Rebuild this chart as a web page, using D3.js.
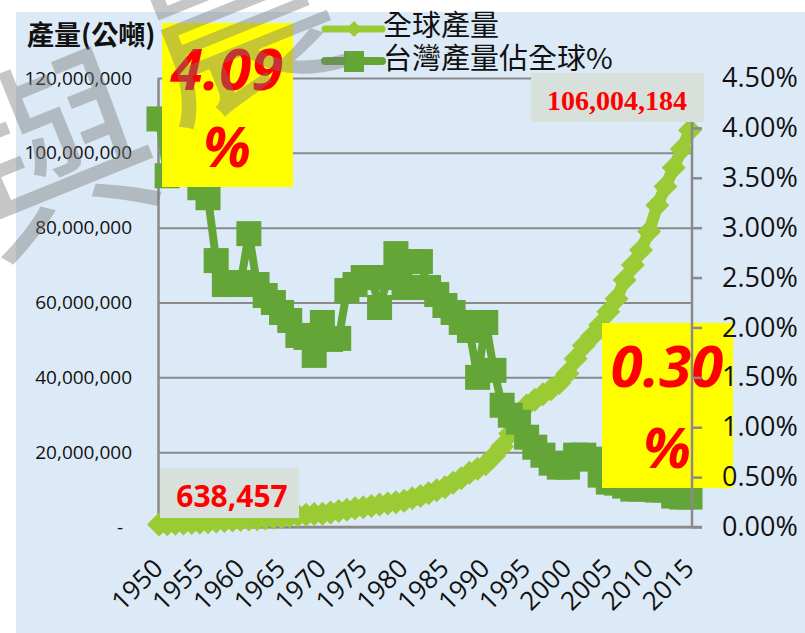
<!DOCTYPE html>
<html>
<head>
<meta charset="utf-8">
<script src="https://cdn.jsdelivr.net/npm/d3@7/dist/d3.min.js"></script>
<style>
  body { margin: 0; background: #fff; }
  svg { display: block; }
</style>
</head>
<body>
<div id="chart"></div>
<script>
// donnees
const years = [1950, 1951, 1952, 1953, 1954, 1955, 1956, 1957, 1958, 1959,
  1960, 1961, 1962, 1963, 1964, 1965, 1966, 1967, 1968, 1969,
  1970, 1971, 1972, 1973, 1974, 1975, 1976, 1977, 1978, 1979,
  1980, 1981, 1982, 1983, 1984, 1985, 1986, 1987, 1988, 1989,
  1990, 1991, 1992, 1993, 1994, 1995, 1996, 1997, 1998, 1999,
  2000, 2001, 2002, 2003, 2004, 2005, 2006, 2007, 2008, 2009,
  2010, 2011, 2012, 2013, 2014, 2015];

// 全球產量 (公噸)
const worldProd = [638457, 750000, 850000, 950000, 1050000, 1150000, 1300000, 1450000, 1600000, 1750000,
  1900000, 2000000, 2100000, 2250000, 2450000, 2600000, 2850000, 3100000, 3300000, 3450000,
  3550000, 3900000, 4300000, 4600000, 5000000, 5300000, 5600000, 6000000, 6300000, 6600000,
  7000000, 7700000, 8300000, 9000000, 9800000, 10600000, 11800000, 13000000, 14500000, 15600000,
  16800000, 19000000, 21500000, 25000000, 30000000, 32500000, 34000000, 35500000, 36800000, 38500000,
  41000000, 45000000, 48500000, 51000000, 54000000, 57500000, 61000000, 66000000, 70000000, 74000000,
  79000000, 86000000, 91000000, 96000000, 101000000, 106004184];

// 台灣產量佔全球 (%)
const twShare = [4.09, 3.52, 3.75, 3.55, 3.60, 3.40, 3.30, 2.67, 2.43, 2.43,
  2.45, 2.94, 2.43, 2.32, 2.25, 2.15, 2.07, 1.92, 1.90, 1.72,
  2.05, 1.88, 1.89, 2.37, 2.43, 2.50, 2.50, 2.20, 2.50, 2.74,
  2.40, 2.66, 2.66, 2.40, 2.33, 2.22, 2.15, 2.05, 1.97, 1.50,
  2.05, 1.57, 1.22, 1.12, 1.05, 0.90, 0.80, 0.72, 0.64, 0.60,
  0.60, 0.72, 0.72, 0.68, 0.52, 0.45, 0.44, 0.41, 0.38, 0.38,
  0.38, 0.37, 0.37, 0.31, 0.30, 0.30];

const leftTicks = [0, 20000000, 40000000, 60000000, 80000000, 100000000, 120000000];
const rightTicks = [0, 0.5, 1, 1.5, 2, 2.5, 3, 3.5, 4, 4.5];
const xTickYears = [1950, 1955, 1960, 1965, 1970, 1975, 1980, 1985, 1990, 1995, 2000, 2005, 2010, 2015];

const width = 805, height = 633;
const plot = { left: 158, right: 692, top: 78, bottom: 527 };

const colWorld = "#9acb34",
    colTw = "#63a537",
    colGrid = "#8a8a8a";

const svg = d3.select("#chart")
    .append("svg")
    .attr("width", width)
    .attr("height", height);

// fond bleu clair
svg.append("rect")
    .attr("x", 16).attr("y", 12)
    .attr("width", width - 16).attr("height", height - 12)
    .attr("fill", "#dce9f6");

const x = d3.scaleLinear().domain([1950, 2015]).range([159, 690]);
const yL = d3.scaleLinear().domain([0, 120000000]).range([plot.bottom, plot.top]);
const yR = d3.scaleLinear().domain([0, 4.5]).range([plot.bottom, plot.top]);

// grille horizontale
svg.append("g")
    .attr("transform", `translate(${plot.left},0)`)
    .call(d3.axisLeft(yL).tickValues(leftTicks).tickSize(-(plot.right - plot.left)).tickFormat(""))
    .call(g => g.select(".domain").remove())
    .call(g => g.selectAll("line").attr("stroke", colGrid).attr("stroke-width", 2));

// axe gauche
svg.append("g")
    .attr("transform", `translate(${plot.left},0)`)
    .call(d3.axisLeft(yL).tickValues(leftTicks).tickSize(0).tickPadding(26)
        .tickFormat(d => d === 0 ? "-" : d3.format(",")(d)))
    .call(g => g.select(".domain").attr("stroke", colGrid).attr("stroke-width", 2.5))
    .call(g => g.selectAll("text")
        .style("font-family", "'Open Sans', sans-serif")
        .style("font-size", "19px")
        .attr("fill", "#111")
        .attr("dx", d => d === 0 ? -9 : 0));

// axe du bas
svg.append("g")
    .attr("transform", `translate(0,${plot.bottom})`)
    .call(d3.axisBottom(x).tickValues(xTickYears).tickSize(0).tickFormat(d3.format("d")))
    .call(g => g.select(".domain").attr("stroke", colGrid).attr("stroke-width", 2.5)
        .attr("d", `M${plot.left},0H${plot.right + 10}`))
    .call(g => g.selectAll("text")
        .attr("y", 0).attr("dy", 0)
        .attr("text-anchor", "end")
        .attr("transform", "translate(5,43) rotate(-45)")
        .style("font-family", "'Open Sans', sans-serif")
        .style("font-size", "26px")
        .attr("fill", "#111"));

// series : 全球產量
const lineWorld = d3.line()
    .x((d, i) => x(years[i]))
    .y(d => yL(d));

svg.append("path")
    .datum(worldProd)
    .attr("d", lineWorld)
    .attr("fill", "none")
    .attr("stroke", colWorld)
    .attr("stroke-width", 12)
    .attr("stroke-linejoin", "round");

svg.append("g")
    .selectAll("path")
    .data(worldProd)
    .join("path")
    .attr("d", "M0,-12L12,0L0,12L-12,0Z")
    .attr("transform", (d, i) => `translate(${x(years[i])},${yL(d)})`)
    .attr("fill", colWorld);

// series : 台灣產量佔全球%
const lineTw = d3.line()
    .x((d, i) => x(years[i]))
    .y(d => yR(d));

svg.append("path")
    .datum(twShare)
    .attr("d", lineTw)
    .attr("fill", "none")
    .attr("stroke", colTw)
    .attr("stroke-width", 8)
    .attr("stroke-linejoin", "round");

svg.append("g")
    .selectAll("rect")
    .data(twShare)
    .join("rect")
    .attr("x", (d, i) => x(years[i]) - 12.5)
    .attr("y", d => yR(d) - 12.5)
    .attr("width", 25)
    .attr("height", 25)
    .attr("fill", colTw);

// encadres
function yellowBox(bx, by, bw, bh, big, cx, b1, b2) {
    svg.append("rect")
        .attr("x", bx).attr("y", by).attr("width", bw).attr("height", bh)
        .attr("fill", "#ffff00");
    svg.append("text")
        .attr("x", cx).attr("y", b1)
        .attr("text-anchor", "middle")
        .style("font-family", "'Open Sans', sans-serif")
        .style("font-size", "58px")
        .style("font-weight", "bold")
        .style("font-style", "italic")
        .attr("fill", "#ff0000")
        .text(big);
    svg.append("text")
        .attr("x", cx).attr("y", b2)
        .attr("text-anchor", "middle")
        .style("font-family", "'Open Sans', sans-serif")
        .style("font-size", "56px")
        .style("font-weight", "bold")
        .style("font-style", "italic")
        .attr("fill", "#ff0000")
        .text("%");
}

yellowBox(162, 23, 131, 164, "4.09", 227, 90, 167);
yellowBox(602, 323, 131, 165, "0.30", 667, 387, 468);

svg.append("rect")
    .attr("x", 160).attr("y", 468).attr("width", 139).attr("height", 50)
    .attr("fill", "#d8e0db");
svg.append("text")
    .attr("x", 232).attr("y", 507)
    .attr("text-anchor", "middle")
    .style("font-family", "'Open Sans', sans-serif")
    .style("font-size", "30px")
    .style("font-weight", "bold")
    .attr("fill", "#ff0000")
    .text(d3.format(",")(worldProd[0]));

// axe droit (au-dessus des encadres)
svg.append("g")
    .attr("transform", `translate(${plot.right},0)`)
    .call(d3.axisRight(yR).tickValues(rightTicks).tickSize(10).tickPadding(20)
        .tickFormat(d => d3.format(".2f")(d) + "%"))
    .call(g => g.select(".domain").attr("stroke", colGrid).attr("stroke-width", 2.5)
        .attr("d", `M0,${plot.top}V${plot.bottom}`))
    .call(g => g.selectAll("line").attr("stroke", colGrid).attr("stroke-width", 2.5))
    .call(g => g.selectAll("text")
        .style("font-family", "'Open Sans', sans-serif")
        .style("font-size", "27px")
        .attr("fill", "#111"));

// le label du haut recouvre l'axe droit
svg.append("rect")
    .attr("x", 531).attr("y", 73).attr("width", 173).attr("height", 49)
    .attr("fill", "#d8e0db");
svg.append("text")
    .attr("x", 617).attr("y", 110)
    .attr("text-anchor", "middle")
    .style("font-family", "'Liberation Serif', 'Times New Roman', serif")
    .style("font-size", "28px")
    .style("font-weight", "bold")
    .attr("fill", "#ff0000")
    .text(d3.format(",")(worldProd[worldProd.length - 1]));

// titre axe gauche
svg.append("text")
    .attr("x", 27).attr("y", 45)
    .style("font-family", "'Noto Sans CJK TC', sans-serif")
    .style("font-size", "27px")
    .style("font-weight", "bold")
    .attr("fill", "#111")
    .text("產量(公噸)");

// legende
const legend = svg.append("g").attr("transform", "translate(325,0)");

legend.append("line")
    .attr("x1", 0).attr("x2", 57).attr("y1", 29).attr("y2", 29)
    .attr("stroke", colWorld).attr("stroke-width", 7).attr("stroke-linecap", "round");
legend.append("path")
    .attr("d", "M0,-8L8,0L0,8L-8,0Z")
    .attr("transform", "translate(29,29)")
    .attr("fill", colWorld);
legend.append("text")
    .attr("x", 58).attr("y", 36)
    .style("font-family", "'Noto Sans CJK TC', sans-serif")
    .style("font-size", "29px")
    .attr("fill", "#111")
    .text("全球產量");

legend.append("line")
    .attr("x1", 0).attr("x2", 57).attr("y1", 61).attr("y2", 61)
    .attr("stroke", colTw).attr("stroke-width", 8).attr("stroke-linecap", "round");
legend.append("rect")
    .attr("x", 19).attr("y", 51).attr("width", 20).attr("height", 21)
    .attr("fill", colTw);
legend.append("text")
    .attr("x", 58).attr("y", 69)
    .style("font-family", "'Noto Sans CJK TC', sans-serif")
    .style("font-size", "29px")
    .attr("fill", "#111")
    .text("台灣產量佔全球%");

// filigrane gris
const wm = svg.append("g")
    .attr("opacity", 0.42)
    .style("font-family", "'Noto Sans CJK TC', sans-serif")
    .style("font-size", "200px")
    .attr("fill", "#7a7a7a");
wm.append("text")
    .attr("transform", "translate(-12,258) rotate(-22)")
    .text("與");
wm.append("text")
    .attr("transform", "translate(168,122) rotate(-22)")
    .text("農");
</script>
</body>
</html>
